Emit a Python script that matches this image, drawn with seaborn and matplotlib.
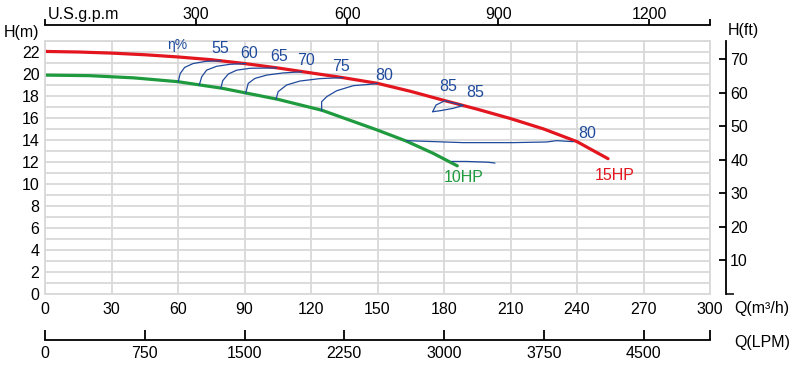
import numpy as np
import pandas as pd
import matplotlib
matplotlib.use("Agg")
import matplotlib.pyplot as plt
import seaborn as sns

# performance curves, H (m) against Q (m3/h)
q_15hp = [0, 15, 30, 45, 60, 75, 90, 105, 120, 135, 150, 165, 180, 195, 210, 225, 240, 254]
h_15hp = [22.05, 22.0, 21.9, 21.75, 21.55, 21.3, 20.95, 20.55, 20.1, 19.65, 19.15, 18.42,
          17.6, 16.8, 15.95, 15.0, 13.85, 12.3]

q_10hp = [0, 20, 40, 60, 70, 80, 90, 105, 125, 150, 163, 175, 186]
h_10hp = [19.9, 19.85, 19.65, 19.3, 19.0, 18.7, 18.3, 17.7, 16.7, 14.9, 13.9, 12.8, 11.65]

# iso-efficiency lines
eff_55_q = [60.1, 61.0, 63.0, 66.8, 72.5, 79.5]
eff_55_h = [19.3, 20.05, 20.6, 20.95, 21.15, 21.2]
eff_60_q = [69.6, 70.7, 72.9, 77.4, 83.4, 90.5]
eff_60_h = [19.0, 19.75, 20.35, 20.7, 20.88, 20.95]
eff_65_q = [79.3, 80.2, 82.7, 86.5, 92.5, 104.5]
eff_65_h = [18.7, 19.4, 20.0, 20.35, 20.52, 20.55]
eff_70_q = [90.5, 91.7, 94.7, 100.0, 107.5, 115.8]
eff_70_h = [18.25, 19.15, 19.6, 19.9, 20.1, 20.2]
eff_75_q = [104.2, 105.2, 109.0, 115.0, 124.0, 134.5]
eff_75_h = [17.7, 18.4, 19.0, 19.36, 19.58, 19.67]
eff_80_q = [124.8, 124.8, 127.1, 131.6, 139.1, 148.1, 150.0]
eff_80_h = [16.66, 17.48, 17.94, 18.48, 18.94, 19.09, 19.15]
eff_85_q = [174.9, 176.4, 180.4, 188.7, 184.2, 178.2, 174.9]
eff_85_h = [16.57, 17.18, 17.57, 17.15, 16.88, 16.66, 16.57]
eff_80b_q = [163.1, 188.7, 211.2, 226.3, 230.8, 238.3]
eff_80b_h = [13.94, 13.76, 13.76, 13.82, 13.94, 13.85]
eff_tail_q = [183.5, 190.0, 200.0, 203.0]
eff_tail_h = [12.05, 12.05, 11.98, 11.9]

eff_labels = ["55", "60", "65", "70", "75", "80", "85", "85", "80"]
eff_label_q = [79.0, 92.2, 105.7, 117.7, 133.4, 153.0, 181.9, 194.0, 244.6]
eff_label_h = [22.33, 21.88, 21.58, 21.27, 20.67, 19.9, 18.9, 18.3, 14.6]

gpm_ticks = [300, 600, 900, 1200]
lpm_ticks = [0, 750, 1500, 2250, 3000, 3750, 4500]
ft_ticks = [10, 20, 30, 40, 50, 60, 70]

sns.set_style("ticks")
plt.rcParams["font.family"] = ["Liberation Sans", "DejaVu Sans"]
plt.rcParams["text.color"] = "black"

red = "#e3161f"
green = "#1f9a3e"
blue = "#1f4a9c"
grid_c = "#d9d9d9"
fs = 11.5

fig = plt.figure(figsize=(8, 3.66), dpi=100)
ax = fig.add_axes([45 / 800, 1 - 294 / 366, 665 / 800, 253 / 366])

sns.lineplot(x=q_15hp, y=h_15hp, ax=ax, color=red, lw=2.3, sort=False, estimator=None)
sns.lineplot(x=q_10hp, y=h_10hp, ax=ax, color=green, lw=2.3, sort=False, estimator=None)

for qs, hs in [(eff_55_q, eff_55_h), (eff_60_q, eff_60_h), (eff_65_q, eff_65_h),
               (eff_70_q, eff_70_h), (eff_75_q, eff_75_h), (eff_80_q, eff_80_h),
               (eff_85_q, eff_85_h), (eff_80b_q, eff_80b_h), (eff_tail_q, eff_tail_h)]:
    sns.lineplot(x=qs, y=hs, ax=ax, color=blue, lw=0.9, sort=False, estimator=None)

for t, q, h in zip(eff_labels, eff_label_q, eff_label_h):
    ax.text(q, h, t, color=blue, fontsize=fs, ha="center", va="center")
ax.text(59.8, 22.6, "η%", color=blue, fontsize=10, ha="center", va="center")
ax.text(189, 10.6, "10HP", color=green, fontsize=fs, ha="center", va="center")
ax.text(257, 10.8, "15HP", color=red, fontsize=fs, ha="center", va="center")

ax.set_xlim(0, 300)
ax.set_ylim(0, 23)
ax.set_xticks(np.arange(0, 301, 30))
ax.set_yticks(np.arange(0, 23, 2))
ax.set_yticks(np.arange(1, 24, 2), minor=True)
ax.grid(which="both", color=grid_c, lw=1.3)
ax.set_axisbelow(True)
ax.tick_params(which="both", length=0, labelsize=fs, colors="black")
ax.tick_params(axis="x", pad=6)
ax.tick_params(axis="y", pad=4)
for s in ax.spines.values():
    s.set_color(grid_c)
    s.set_linewidth(1.3)

# U.S. gpm axis on top
top = ax.secondary_xaxis(1 + 16 / 253, functions=(lambda q: q * 4.403, lambda g: g / 4.403))
top.set_xticks(gpm_ticks)
top.set_xticks([0, 300 * 4.403], minor=True)
top.tick_params(which="both", direction="out", length=4, width=1.3, pad=-1.5, labelsize=fs, colors="black")
top.spines["top"].set_linewidth(1.3)
top.spines["top"].set_color("black")

# H(ft) axis on the right
right = ax.secondary_yaxis(1 + 16 / 665, functions=(lambda m: m * 3.28084, lambda f: f / 3.28084))
right.set_yticks(ft_ticks)
right.set_yticks([0], minor=True)
right.tick_params(which="major", direction="in", length=5, width=1.3, pad=3, labelsize=fs, colors="black")
right.tick_params(which="minor", direction="out", length=6, width=1.3)
right.spines["right"].set_linewidth(1.3)
right.spines["right"].set_color("black")

# LPM axis at the bottom
bot = ax.secondary_xaxis(-46 / 253, functions=(lambda q: q * 1000 / 60, lambda l: l * 60 / 1000))
bot.set_xticks(lpm_ticks)
bot.set_xticks([5000], minor=True)
bot.tick_params(which="both", direction="in", length=7, width=1.3, pad=4, labelsize=fs, colors="black")
bot.spines["bottom"].set_linewidth(1.3)
bot.spines["bottom"].set_color("black")

fig.text(48 / 800, 1 - 14 / 366, "U.S.g.p.m", fontsize=fs, ha="left", va="center")
fig.text(4 / 800, 1 - 32 / 366, "H(m)", fontsize=fs, ha="left", va="center")
fig.text(728 / 800, 1 - 30 / 366, "H(ft)", fontsize=fs, ha="left", va="center")
fig.text(734 / 800, 1 - 309 / 366, "Q(m³/h)", fontsize=fs, ha="left", va="center")
fig.text(734 / 800, 1 - 342 / 366, "Q(LPM)", fontsize=fs, ha="left", va="center")

fig.savefig("out.png", dpi=100)
